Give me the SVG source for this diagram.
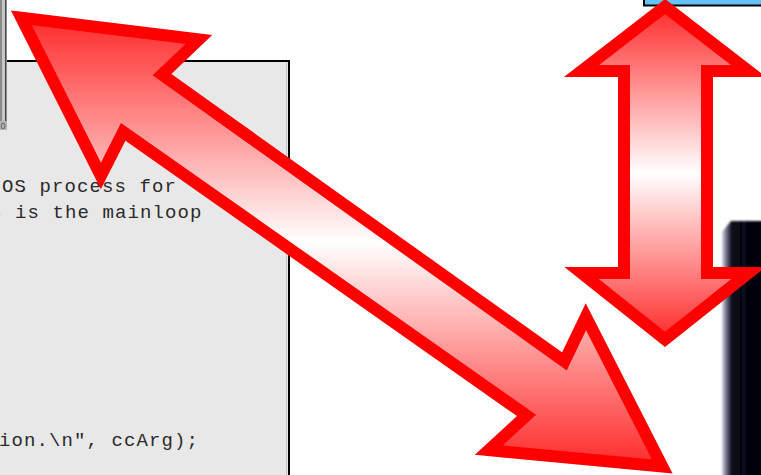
<svg xmlns="http://www.w3.org/2000/svg" width="761" height="475" viewBox="0 0 761 475">
  <defs>
    <style>
      .code { font-family: "Liberation Mono", "DejaVu Sans Mono", monospace; font-size: 19px; letter-spacing: 1.1px; fill: #2a2a2a; }
      .big-arrow { stroke: #ff0000; stroke-width: 12; stroke-linejoin: miter; stroke-miterlimit: 10; fill: url(#redFade); }
    </style>
    <!-- red at both ends, white through the middle -->
    <linearGradient id="redFade" x1="0" y1="0" x2="0" y2="1">
      <stop offset="0" stop-color="#ff2a2a"/>
      <stop offset="0.5" stop-color="#ffffff"/>
      <stop offset="1" stop-color="#ff2a2a"/>
    </linearGradient>
    <linearGradient id="barShade" gradientUnits="userSpaceOnUse" x1="722" y1="0" x2="761" y2="0">
      <stop offset="0" stop-color="#d4d4e0"/>
      <stop offset="0.12" stop-color="#6a6a82"/>
      <stop offset="0.24" stop-color="#10101e"/>
      <stop offset="0.5" stop-color="#05050f"/>
      <stop offset="0.56" stop-color="#1c1c2c"/>
      <stop offset="0.62" stop-color="#05050f"/>
      <stop offset="1" stop-color="#020208"/>
    </linearGradient>
    <filter id="soft" x="-0.2" y="-0.1" width="1.4" height="1.2">
      <feGaussianBlur stdDeviation="1.1"/>
    </filter>
  </defs>

  <rect width="761" height="475" fill="#ffffff"/>

  <!-- code listing panel -->
  <g id="panel">
    <rect x="-10" y="61" width="299" height="430" fill="#e8e8e8" stroke="#000000" stroke-width="2"/>
    <line x1="286.5" y1="62" x2="286.5" y2="475" stroke="#c4c4c4" stroke-width="1"/>
    <text class="code" x="2" y="192">OS process for</text>
    <text class="code" x="-10" y="218">s is the mainloop</text>
    <text class="code" x="-1" y="446">ion.\n", ccArg);</text>
  </g>

  <!-- scroll bar at the left edge -->
  <g id="scrollbar">
    <rect x="0" y="0" width="7" height="121" fill="#c6c6c6"/>
    <rect x="0" y="0" width="2" height="121" fill="#8a8a8a"/>
    <rect x="5" y="0" width="1.5" height="121" fill="#4a4a4a"/>
    <rect x="0" y="121" width="7" height="9" fill="#b4b4b4"/>
    <text x="0.5" y="129" font-family="Liberation Sans, Arial, sans-serif" font-size="9" fill="#555555">0</text>
  </g>

  <!-- blue box at the top right -->
  <g id="blue-box">
    <rect x="644" y="-10" width="130" height="15.5" fill="#63c3f5" stroke="#000000" stroke-width="2"/>
  </g>

  <!-- dark bar at the right edge -->
  <g id="dark-bar">
    <path d="M722,232 L731,221 L770,221 L770,485 L722,485 Z" fill="url(#barShade)" filter="url(#soft)"/>
  </g>

  <g id="connectors">
    <!-- diagonal two-headed arrow -->
    <polygon class="big-arrow" points="21.3,17.7 198.9,39.5 162.0,74.7 564.4,361.4 585.9,316.7 662.3,466.5 488.8,450.1 526.5,415.4 123.2,131.8 100.9,176"/>
    <!-- vertical two-headed arrow -->
    <polygon class="big-arrow" points="665,6.6 748.5,71 707,71 707,273 748.5,273 665,339.4 581.5,273 624,273 624,71 581.5,71"/>
  </g>
</svg>
